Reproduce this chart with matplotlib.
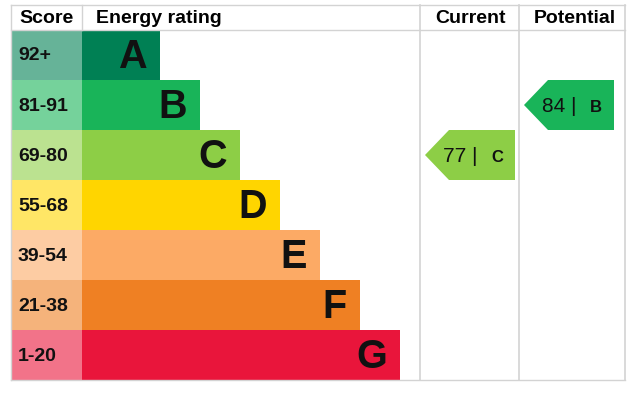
import matplotlib.pyplot as plt
from matplotlib.patches import Rectangle, Polygon
import matplotlib.colors as mcolors

plt.rcParams["font.family"] = ["Liberation Sans", "DejaVu Sans"]

# Band data
bands = ["A", "B", "C", "D", "E", "F", "G"]
score_labels = ["92+", "81-91", "69-80", "55-68", "39-54", "21-38", "1-20"]
band_lows = [92, 81, 69, 55, 39, 21, 1]
band_colors = ["#008054", "#19b459", "#8dce46", "#ffd500", "#fcaa65", "#ef8023", "#e9153b"]
headers = ["Score", "Energy rating", "Current", "Potential"]

current_score = 77
potential_score = 84

# Layout in pixels
W, H = 639, 415
left, right = 11, 625
top, head_h, row_h = 5, 25, 50
score_w = 71
bar_x0 = left + score_w
bar_w0, bar_step = 78, 40
cur_x0, pot_x0 = 420, 519
grid = "#d3d3d3"


def band_index(score):
    for i, low in enumerate(band_lows):
        if score >= low:
            return i
    return len(band_lows) - 1


fig = plt.figure(figsize=(W / 100, H / 100), dpi=100)
ax = fig.add_axes([0, 0, 1, 1])
ax.set_xlim(0, W)
ax.set_ylim(H, 0)
ax.axis("off")

y0 = top + head_h
bottom = y0 + row_h * len(bands)

# Rating rows
for i, (b, lab, col) in enumerate(zip(bands, score_labels, band_colors)):
    y = y0 + i * row_h
    light = mcolors.to_rgb(col)
    light = tuple(0.6 * c + 0.4 for c in light)
    ax.add_patch(Rectangle((left, y), score_w, row_h, color=light, lw=0))
    w = bar_w0 + i * bar_step
    ax.add_patch(Rectangle((bar_x0, y), w, row_h, color=col, lw=0))
    ax.text(left + 7, y + row_h / 2 + 1, lab, fontsize=14, fontweight="bold",
            va="center", ha="left", color="#111111")
    ax.text(bar_x0 + w - 13, y + row_h / 2 + 2, b, fontsize=28.5, fontweight="bold",
            va="center", ha="right", color="#111111")

# Grid lines
ax.plot([left, right], [top, top], color=grid, lw=1)
ax.plot([left, right], [y0, y0], color=grid, lw=1)
ax.plot([left, right], [bottom, bottom], color=grid, lw=1)
ax.plot([left, left], [top, bottom], color=grid, lw=1)
ax.plot([bar_x0, bar_x0], [top, y0], color=grid, lw=1)
for x in (cur_x0, pot_x0, right):
    ax.plot([x, x], [top, bottom], color=grid, lw=1.2)

# Headers
hy = top + head_h / 2 + 1
ax.text(left + 8, hy, headers[0], fontsize=14, fontweight="bold", va="center")
ax.text(bar_x0 + 14, hy, headers[1], fontsize=14, fontweight="bold", va="center")
ax.text((cur_x0 + pot_x0) / 2 + 1, hy, headers[2], fontsize=14, fontweight="bold",
        va="center", ha="center")
ax.text((pot_x0 + right) / 2 + 3, hy, headers[3], fontsize=14, fontweight="bold",
        va="center", ha="center")


# Arrows
def arrow(score, x0, x1):
    i = band_index(score)
    y = y0 + i * row_h
    tip = 24
    pts = [(x0 + 5, y + row_h / 2), (x0 + 5 + tip, y), (x1, y), (x1, y + row_h), (x0 + 5 + tip, y + row_h)]
    ax.add_patch(Polygon(pts, closed=True, color=band_colors[i], lw=0))
    ax.text(x0 + 23, y + row_h / 2 + 1, f"{score} |", fontsize=15, va="center", ha="left",
            color="#111111")
    ax.text(x1 - 12, y + row_h / 2 + 2, bands[i], fontsize=12, fontweight="bold", va="center",
            ha="right", color="#111111")


arrow(current_score, cur_x0, cur_x0 + 95)
arrow(potential_score, pot_x0, pot_x0 + 95)

fig.savefig("out.png", dpi=100)
